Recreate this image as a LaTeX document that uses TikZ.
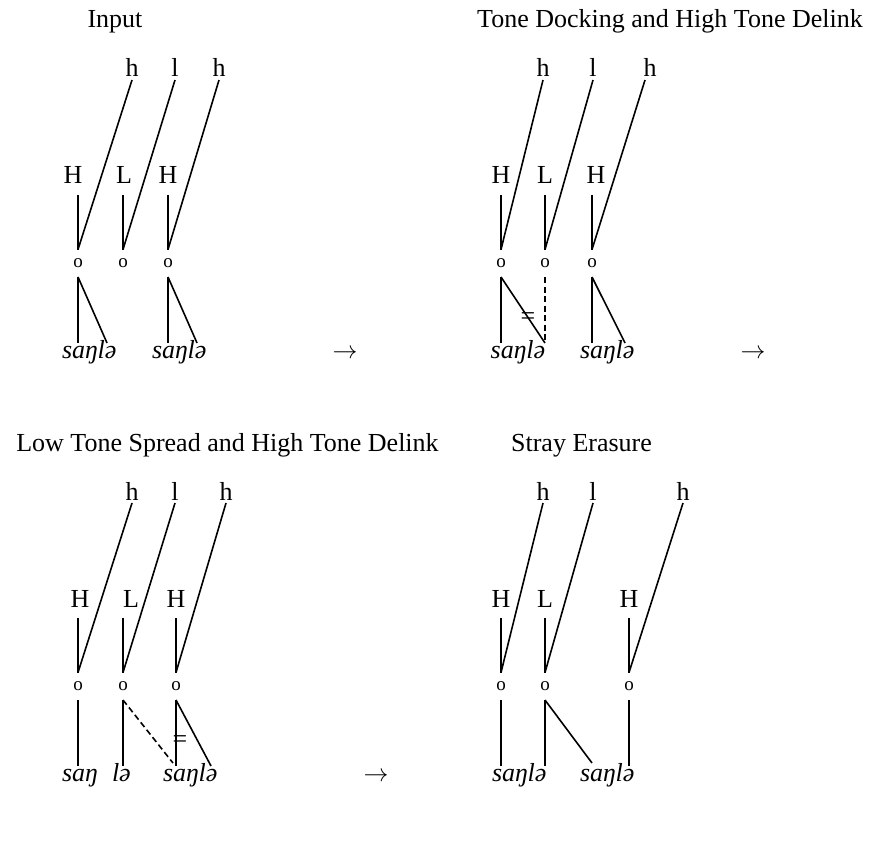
\documentclass[tikz,border=0pt]{standalone}
\usepackage{fontspec}
\setmainfont{Liberation Serif}
\usetikzlibrary{calc}
\begin{document}
\begin{tikzpicture}[x=1pt,y=-1pt,
  every node/.style={inner sep=0pt, outer sep=0pt},
  ttl/.style={font=\fontsize{26}{30}\selectfont, anchor=base},
  floatt/.style={font=\fontsize{26}{30}\selectfont, anchor=base, text height=17pt, text depth=0pt, inner ysep=3pt},
  tbu/.style={font=\fontsize{26}{30}\selectfont, anchor=base, text height=17pt, text depth=0pt, inner ysep=11pt},
  slot/.style={font=\fontsize{19}{22}\selectfont, anchor=base, text height=8.5pt, text depth=0pt, inner ysep=9.5pt},
  syl/.style={font=\fontsize{26}{30}\selectfont\itshape, anchor=base west, text height=12pt, text depth=0pt, inner ysep=3pt},
  eqs/.style={font=\fontsize{26}{30}\selectfont},
  arr/.style={font=\fontsize{26}{30}\selectfont, anchor=base},
  assoc/.style={line width=1.6pt},
  delink/.style={line width=1.6pt, dash pattern=on 6pt off 3.5pt}
]
\useasboundingbox (0,0) rectangle (874,842);

% ---------------- Panel 1: Input ----------------
\node[ttl] (at) at (115,28) {Input};
\node[floatt] (ah1) at (132,77) {h};
\node[floatt] (al)  at (175,77) {l};
\node[floatt] (ah2) at (219,77) {h};
\node[tbu] (aH1) at (73,184) {H};
\node[tbu] (aL)  at (124,184) {L};
\node[tbu] (aH2) at (168,184) {H};
\node[slot] (ao1) at (78,267.5) {o};
\node[slot] (ao2) at (123,267.5) {o};
\node[slot] (ao3) at (168,267.5) {o};
\node[syl] (as1) at (62,358) {saŋ};
\node[syl] (al1) at (as1.base east) {lə};
\node[syl] (as2) at (152,358) {saŋ};
\node[syl] (al2) at (as2.base east) {lə};
\node[arr] (aarr) at (345,358) {$\rightarrow$};
\draw[assoc] (ah1.south) -- (ao1.north);
\draw[assoc] (al.south) -- (ao2.north);
\draw[assoc] (ah2.south) -- (ao3.north);
\draw[assoc] (ao1 |- aH1.south) -- (ao1.north);
\draw[assoc] (ao2 |- aL.south) -- (ao2.north);
\draw[assoc] (ao3 |- aH2.south) -- (ao3.north);
\draw[assoc] (ao1.south) -- (ao1 |- as1.north);
\draw[assoc] (ao1.south) -- (al1.north);
\draw[assoc] (ao3.south) -- (ao3 |- as2.north);
\draw[assoc] (ao3.south) -- (al2.north);

% ---------------- Panel 2 ----------------
\node[ttl] (bt) at (670,28) {Tone Docking and High Tone Delink};
\node[floatt] (bh1) at (543,77) {h};
\node[floatt] (bl)  at (593,77) {l};
\node[floatt] (bh2) at (650,77) {h};
\node[tbu] (bH1) at (501,184) {H};
\node[tbu] (bL)  at (545,184) {L};
\node[tbu] (bH2) at (596,184) {H};
\node[slot] (bo1) at (501,267.5) {o};
\node[slot] (bo2) at (545,267.5) {o};
\node[slot] (bo3) at (592,267.5) {o};
\node[syl] (bs1) at (490.7,358) {saŋ};
\node[syl] (bl1) at (bs1.base east) {lə};
\node[syl] (bs2) at (580,358) {saŋ};
\node[syl] (bl2) at (bs2.base east) {lə};
\node[arr] (barr) at (753,358) {$\rightarrow$};
\node[eqs] (beq) at (528,319) {=};
\draw[assoc] (bh1.south) -- (bo1.north);
\draw[assoc] (bl.south) -- (bo2.north);
\draw[assoc] ([xshift=-5pt]bh2.south) -- (bo3.north);
\draw[assoc] (bo1 |- bH1.south) -- (bo1.north);
\draw[assoc] (bo2 |- bL.south) -- (bo2.north);
\draw[assoc] (bo3 |- bH2.south) -- (bo3.north);
\draw[assoc] (bo1.south) -- (bo1 |- bs1.north);
\draw[assoc] (bo1.south) -- (bo2 |- bl1.north);
\draw[delink] (bo2.south) -- (bo2 |- bl1.north);
\draw[assoc] (bo3.south) -- (bo3 |- bs2.north);
\draw[assoc] (bo3.south) -- (bl2.north);

% ---------------- Panel 3 ----------------
\node[ttl] (ct) at (227.5,451) {Low Tone Spread and High Tone Delink};
\node[floatt] (ch1) at (132,500) {h};
\node[floatt] (cl)  at (175,500) {l};
\node[floatt] (ch2) at (226,500) {h};
\node[tbu] (cH1) at (80,607) {H};
\node[tbu] (cL)  at (131,607) {L};
\node[tbu] (cH2) at (176,607) {H};
\node[slot] (co1) at (78,690.5) {o};
\node[slot] (co2) at (123,690.5) {o};
\node[slot] (co3) at (176,690.5) {o};
\node[syl] (cs1) at (62,781) {saŋ};
\node[syl] (cl1) at (112,781) {lə};
\node[syl] (cs2) at (163,781) {saŋ};
\node[syl] (cl2) at (cs2.base east) {lə};
\node[arr] (carr) at (376,781) {$\rightarrow$};
\node[eqs] (ceq) at (180,742) {=};
\coordinate (cend) at (173,763);
\draw[assoc] (ch1.south) -- (co1.north);
\draw[assoc] (cl.south) -- (co2.north);
\draw[assoc] (ch2.south) -- (co3.north);
\draw[assoc] (co1 |- cH1.south) -- (co1.north);
\draw[assoc] (co2 |- cL.south) -- (co2.north);
\draw[assoc] (co3 |- cH2.south) -- (co3.north);
\draw[assoc] (co1.south) -- (co1 |- cs1.north);
\draw[assoc] (co2.south) -- (co2 |- cl1.north);
\draw[delink] (co2.south) -- (cend);
\draw[assoc] (co3.south) -- (co3 |- cs2.north);
\draw[assoc] (co3.south) -- ([xshift=3pt]cl2.north);

% ---------------- Panel 4 ----------------
\node[ttl] (dt) at (581.5,451) {Stray Erasure};
\node[floatt] (dh1) at (543,500) {h};
\node[floatt] (dl)  at (593,500) {l};
\node[floatt] (dh2) at (683,500) {h};
\node[tbu] (dH1) at (501,607) {H};
\node[tbu] (dL)  at (545,607) {L};
\node[tbu] (dH2) at (629,607) {H};
\node[slot] (do1) at (501,690.5) {o};
\node[slot] (do2) at (545,690.5) {o};
\node[slot] (do3) at (629,690.5) {o};
\node[syl] (ds1) at (492,781) {saŋ};
\node[syl] (dl1) at (ds1.base east) {lə};
\node[syl] (ds2) at (580,781) {saŋ};
\node[syl] (dl2) at (ds2.base east) {lə};
\coordinate (dend) at (592,763);
\draw[assoc] (dh1.south) -- (do1.north);
\draw[assoc] (dl.south) -- (do2.north);
\draw[assoc] (dh2.south) -- (do3.north);
\draw[assoc] (do1 |- dH1.south) -- (do1.north);
\draw[assoc] (do2 |- dL.south) -- (do2.north);
\draw[assoc] (do3 |- dH2.south) -- (do3.north);
\draw[assoc] (do1.south) -- (do1 |- ds1.north);
\draw[assoc] (do2.south) -- (do2 |- dl1.north);
\draw[assoc] (do2.south) -- (dend);
\draw[assoc] (do3.south) -- (do3 |- ds2.north);
\end{tikzpicture}
\end{document}
